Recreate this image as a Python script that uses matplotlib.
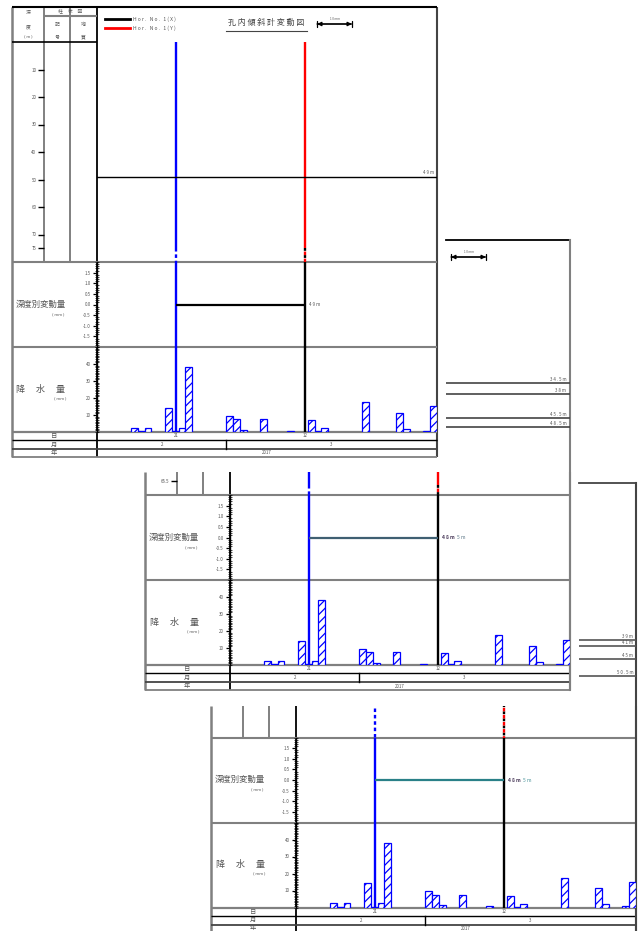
import matplotlib
matplotlib.use("Agg")
import matplotlib.pyplot as plt
import matplotlib.transforms as mtransforms
from matplotlib.ticker import MultipleLocator

plt.rcParams['font.family'] = ['Noto Sans CJK JP', 'DejaVu Sans']
plt.rcParams['hatch.linewidth'] = 0.9
plt.rcParams['hatch.color'] = '#0000ff'

# =========================
# DATA
# =========================
# days counted from 2017-02-10 (day 0); axis covers 50 days
rain_day = [5, 6, 7, 10, 11, 12, 13, 19, 20, 21, 24, 28, 31, 32, 33, 39, 44, 45, 48, 49]
rain_mm = [2.5, 0.4, 2.5, 14.3, 0.4, 2.5, 38, 9.5, 7.5, 1.2, 7.5, 0.8, 7.0, 0.4, 2.2, 17.5, 11.4, 2.0, 0.8, 15.0]

meas_day = [11.6, 30.6]          # measurement dates (2/21, 3/12)
meas_label = ["21", "12"]
month_edges = [0, 19, 50]
month_labels = ["2", "3"]
year_label = "2017"

disp_ticks = [-1.5, -1.0, -0.5, 0.0, 0.5, 1.0, 1.5]
disp_labels = ["-1.5", "-1.0", "-0.5", "0.0", "0.5", "1.0", "1.5"]
rain_ticks = [10, 20, 30, 40]

depth_ticks_1 = [10, 20, 30, 40, 50, 60, 70, 75]
depth_labels_1 = ["10", "20", "30", "40", "50", "60", "70", "75"]
depth_ticks_2 = [75]
depth_labels_2 = ["65.5"]
depth_mark = 49
depth_mark_label = "4 9 m"

box1_depth = [34.5, 38, 45.5, 48.5]
box1_labels = ["3 4 . 5 m", "3 8 m", "4 5 . 5 m", "4 8 . 5 m"]
box2_depth = [39, 41, 45, 50.5]
box2_labels = ["3 9 m", "4 1 m", "4 5 m", "5 0 . 5 m"]

# per panel: offsets (px), top clip (px), depth where line turns dashed, displacement line colour
panel_dx = [0, 133, 199]
panel_dy = [0, 233, 475.5]
panel_clip = [0, 472, 706]
panel_solid = [75, 76.4, 60]
panel_disp = [0.0, 0.0, 0.0]
panel_line_color = ['black', '#3f5f72', '#2a8088']

# =========================
# LAYOUT HELPERS
# =========================
W, H = 640, 931
BLUE = '#0000ff'
RED = '#ff0000'
GRAY = '#808080'
TXT = '#555555'

fig = plt.figure(figsize=(W / 100, H / 100), dpi=100)

ov = fig.add_axes([0, 0, 1, 1], zorder=0)
ov.set_xlim(0, W)
ov.set_ylim(H, 0)
ov.axis('off')


def box(x0, y0, x1, y1):
    return [x0 / W, 1 - y1 / H, (x1 - x0) / W, (y1 - y0) / H]


def new_ax(x0, y0, x1, y1):
    ax = fig.add_axes(box(x0, y0, x1, y1), zorder=2)
    ax.patch.set_visible(False)
    for s in ax.spines.values():
        s.set_visible(False)
    ax.set_xticks([])
    ax.set_yticks([])
    return ax


def scale_bar(x0, x1, y):
    ov.annotate('', xy=(x1, y), xytext=(x0, y),
                arrowprops=dict(arrowstyle='|-|,widthA=0.25,widthB=0.25', lw=0.9, color='k',
                                shrinkA=0, shrinkB=0))
    ov.annotate('', xy=(x1, y), xytext=(x0, y),
                arrowprops=dict(arrowstyle='<|-|>,head_length=0.25,head_width=0.12', lw=0.9,
                                color='k', shrinkA=0, shrinkB=0))
    ov.text((x0 + x1) / 2, y - 3, "1 0 mm", fontsize=2.2, color=TXT, ha='center', va='bottom')


def panel(i):
    dx, dy, clip = panel_dx[i], panel_dy[i], panel_clip[i]

    def vline(x, y0, y1, color=GRAY, lw=1.5):
        y0, y1 = max(y0 + dy, clip), y1 + dy
        if y1 > y0:
            ov.plot([x + dx, x + dx], [y0, y1], color=color, lw=lw, solid_capstyle='butt')

    def hline(y, x0, x1, color=GRAY, lw=1.5):
        if y + dy >= clip:
            ov.plot([x0 + dx, x1 + dx], [y + dy] * 2, color=color, lw=lw, solid_capstyle='butt')

    def label(x, y, s, size=5, **kw):
        if y + dy >= clip:
            ov.text(x + dx, y + dy, s, fontsize=size, color=TXT, ha='center', va='center', **kw)

    # frame
    vline(12, 7, 457, GRAY, 1.8)
    vline(437, 7, 457, '#444444' if i == 0 else GRAY, 1.5)
    vline(97, 7, 457, 'black', 1.3)
    vline(44, 7, 262, GRAY, 1.4)
    vline(70, 7, 262, GRAY, 1.4)
    hline(7, 12, 437, 'black', 1.5)
    hline(16, 44, 97, GRAY, 1.5)
    hline(42, 12, 97, 'black', 1.2)
    hline(262, 12, 437, GRAY, 1.5)
    hline(347, 12, 437, GRAY, 1.5)
    hline(432, 12, 437, GRAY, 1.6)
    hline(440, 12, 437, 'black', 1.0)
    hline(449, 12, 437, '#444444', 1.3)
    hline(457, 12, 437, GRAY, 1.3)

    # header
    label(28, 13, "深", 3.5)
    label(28, 27, "度", 3.5)
    label(28, 37, "( m )", 3)
    label(70.5, 11, "柱　状　図", 3.5)
    label(57, 25, "記", 3.5)
    label(57, 37, "号", 3.5)
    label(83.5, 25, "地", 3.5)
    label(83.5, 37, "質", 3.5)
    label(41, 304, "深度別変動量", 6)
    label(58, 315, "( mm )", 3)
    label(41, 389, "降　 水　 量", 6.5)
    label(60, 399, "( mm )", 3)
    label(54, 436, "日", 4.5)
    label(54, 444.5, "月", 4.5)
    label(54, 453, "年", 4.5)

    # depth section
    top = max(42 + dy, clip)
    d_top = (top - (42 + dy)) / 2.75
    axd = new_ax(97 + dx, top, 437 + dx, 262 + dy)
    axd.set_xlim(0, 50)
    axd.set_ylim(80, d_top)
    ds = panel_solid[i]
    axd.vlines(meas_day[0], 0, ds, color=BLUE, lw=1.7)
    axd.vlines(meas_day[0], ds, 80, color=BLUE, lw=1.7, linestyles=(0, (1.5, 1.2)))
    axd.vlines(meas_day[1], 0, ds, color=RED, lw=1.7)
    axd.vlines(meas_day[1], ds, 80, color='black', lw=1.7, linestyles=(0, (1.2, 1.8)))
    axd.vlines(meas_day[1], ds, 80, color=RED, lw=1.7, linestyles=(1.5, (1.5, 1.5)))
    if i == 0:
        axd.axhline(depth_mark, color='black', lw=1.0)
        axd.text(49.6, depth_mark - 0.6, depth_mark_label, fontsize=3.2, color=TXT,
                 ha='right', va='bottom')

    # depth ticks in the symbol column
    axt = new_ax(44 + dx, top, 70 + dx, 262 + dy)
    axt.set_ylim(80, d_top)
    ticks = depth_ticks_1 if i == 0 else (depth_ticks_2 if i == 1 else [])
    labels = depth_labels_1 if i == 0 else (depth_labels_2 if i == 1 else [])
    axt.set_yticks(ticks)
    axt.set_yticklabels(labels)
    axt.tick_params(axis='y', direction='out', length=4, width=1.0, pad=1.5,
                    labelsize=3.2, labelcolor=TXT, color='black')

    # displacement section
    axv = new_ax(97 + dx, 262 + dy, 437 + dx, 347 + dy)
    axv.set_xlim(0, 50)
    axv.set_ylim(-2, 2)
    axv.spines['left'].set_visible(True)
    axv.spines['left'].set_linewidth(1.0)
    axv.set_yticks(disp_ticks)
    axv.set_yticklabels(disp_labels)
    axv.yaxis.set_minor_locator(MultipleLocator(0.1))
    axv.tick_params(axis='y', which='major', direction='out', length=3, width=0.9, pad=1.5,
                    labelsize=3.2, labelcolor=TXT)
    axv.tick_params(axis='y', which='minor', direction='inout', length=2.5, width=0.5)
    axv.axvline(meas_day[0], color=BLUE, lw=1.7)
    axv.axvline(meas_day[1], color='black', lw=1.7)
    axv.hlines(panel_disp[i], meas_day[0], meas_day[1], color=panel_line_color[i], lw=1.6)
    if i == 0:
        axv.text(meas_day[1] + 0.6, panel_disp[i], "4 9 m", fontsize=3.3, color=TXT, va='center')
    else:
        axv.text(meas_day[1] + 0.6, panel_disp[i], "4 8 m", fontsize=3.5,
                 color='#4a3a5a', va='center', fontweight='bold')
        axv.text(meas_day[1] + 2.75, panel_disp[i], "5 m", fontsize=3.5,
                 color=panel_line_color[i], va='center', alpha=0.85)

    # rainfall section
    axr = new_ax(97 + dx, 347 + dy, 437 + dx, 432 + dy)
    axr.set_xlim(0, 50)
    axr.set_ylim(0, 50)
    axr.spines['left'].set_visible(True)
    axr.spines['left'].set_linewidth(1.0)
    axr.set_yticks(rain_ticks)
    axr.yaxis.set_minor_locator(MultipleLocator(1))
    axr.tick_params(axis='y', which='major', direction='out', length=3, width=0.9, pad=1.5,
                    labelsize=3.2, labelcolor=TXT)
    axr.tick_params(axis='y', which='minor', direction='inout', length=2.5, width=0.5)
    axr.bar(rain_day, rain_mm, width=1.0, align='edge', facecolor='white',
            edgecolor=BLUE, hatch='////', lw=0.9, zorder=2)
    axr.axvline(meas_day[0], color=BLUE, lw=1.7, zorder=3)
    axr.axvline(meas_day[1], color='black', lw=1.7, zorder=3)

    # date rows below the rainfall axis
    trans = mtransforms.blended_transform_factory(axr.transData, axr.transAxes)
    for d, s in zip(meas_day, meas_label):
        axr.text(d, -4 / 85, s, transform=trans, fontsize=3.2, color=TXT,
                 ha='center', va='center', clip_on=False)
    for k, s in enumerate(month_labels):
        axr.text((month_edges[k] + month_edges[k + 1]) / 2, -12.5 / 85, s, transform=trans,
                 fontsize=3.2, color=TXT, ha='center', va='center', clip_on=False)
    for e in month_edges[1:-1]:
        axr.plot([e, e], [-8 / 85, -17 / 85], transform=trans, color='black', lw=1.0,
                 clip_on=False)
    axr.text(25, -21 / 85, year_label, transform=trans, fontsize=3.2, color=TXT,
             ha='center', va='center', clip_on=False)


for i in range(3):
    panel(i)

# legend, title and scale of the top sheet
ov.plot([105, 130], [19, 19], color='black', lw=2)
ov.plot([105, 130], [28, 28], color=RED, lw=2)
ov.text(133, 19, "H o r .   N o .   1 ( X )", fontsize=3.6, color=TXT, va='center')
ov.text(133, 28, "H o r .   N o .   1 ( Y )", fontsize=3.6, color=TXT, va='center')
ov.text(266.5, 22, "孔 内 傾 斜 計 変 動 図", fontsize=5.8, color='#444444', ha='center', va='center')
ov.plot([226, 307], [31, 31], color='#444444', lw=0.8)
scale_bar(317, 352, 24)

# side sheet 1
ov.plot([446, 570], [240, 240], color='black', lw=1.3)
ov.plot([570, 570], [240, 690], color=GRAY, lw=1.5)
scale_bar(451, 486, 257)
axb1 = new_ax(446, 240, 570, 470)
axb1.set_xlim(0, 1)
axb1.set_ylim((470 - 275.4) / 3.13, (240 - 275.4) / 3.13)
for d, s in zip(box1_depth, box1_labels):
    axb1.hlines(d, 0, 1, color='#444444', lw=1.2)
    axb1.text(0.97, d - 0.4, s, fontsize=3.2, color=TXT, ha='right', va='bottom')

# side sheet 2
ov.plot([579, 636], [483, 483], color='#444444', lw=1.3)
ov.plot([636, 636], [483, 931], color='#444444', lw=1.5)
axb2 = new_ax(579, 483, 636, 700)
axb2.set_xlim(0, 1)
axb2.set_ylim((700 - 518) / 3.13, (483 - 518) / 3.13)
for d, s in zip(box2_depth, box2_labels):
    axb2.hlines(d, 0, 1, color='#555555', lw=1.2)
    axb2.text(0.95, d - 0.4, s, fontsize=3.2, color=TXT, ha='right', va='bottom')

fig.savefig("out.png", dpi=100)
